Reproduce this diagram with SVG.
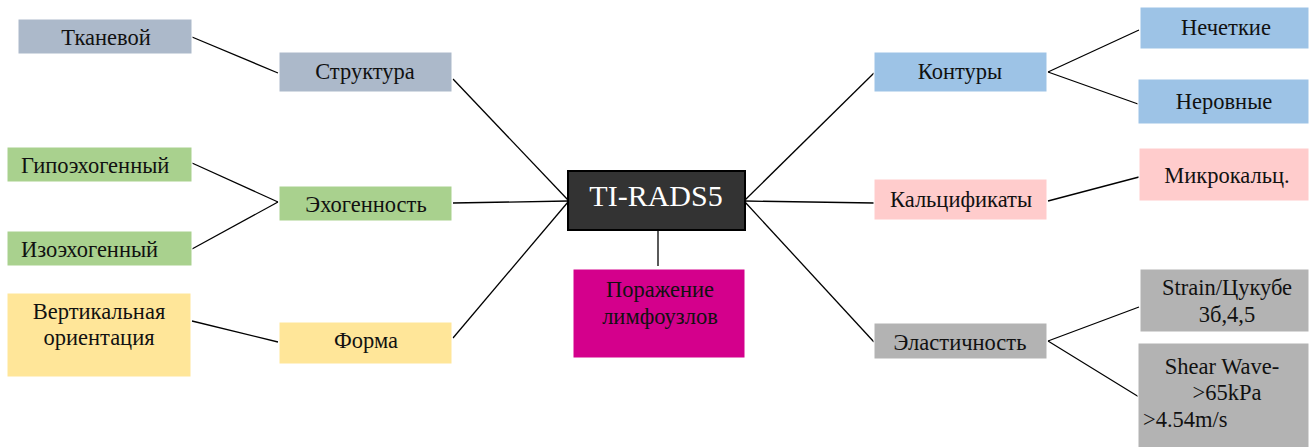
<svg xmlns="http://www.w3.org/2000/svg" width="1309" height="447" viewBox="0 0 1309 447">
<style>
text{font-family:"Liberation Serif","DejaVu Serif",serif;font-size:22.5px;fill:#111;text-anchor:middle}
.st{text-anchor:start}
.s{stroke:#fff;stroke-width:1}
.blue-gray{fill:#ACB9CA}.green{fill:#A9D18E}.yellow{fill:#FFE699}.blue{fill:#9DC3E6}.pink{fill:#FFCCCC}.gray{fill:#B3B3B3}
#connectors line{stroke:#000;stroke-width:1.3}
</style>
<rect width="1309" height="447" fill="#fff"/>
<g id="connectors">
<line x1="192" y1="37" x2="278" y2="73"/>
<line x1="192" y1="163" x2="278" y2="202"/>
<line x1="192" y1="249" x2="278" y2="202"/>
<line x1="192" y1="321" x2="278" y2="342"/>
<line x1="453" y1="79" x2="568" y2="200"/>
<line x1="453" y1="203" x2="568" y2="201"/>
<line x1="453" y1="338" x2="568" y2="202"/>
<line x1="658" y1="230" x2="658" y2="266"/>
<line x1="745" y1="200" x2="874" y2="73"/>
<line x1="745" y1="201" x2="874" y2="203"/>
<line x1="745" y1="202" x2="874" y2="342"/>
<line x1="1048" y1="72" x2="1139" y2="30"/>
<line x1="1048" y1="72" x2="1138" y2="104"/>
<line x1="1048" y1="201" x2="1139" y2="177"/>
<line x1="1048" y1="341" x2="1139" y2="307"/>
<line x1="1048" y1="341" x2="1139" y2="397"/>
</g>
<g id="tkanevoy"><rect class="blue-gray s" x="18" y="19" width="174" height="35"/><text x="106" y="45">Тканевой</text></g>
<g id="struktura"><rect class="blue-gray s" x="279" y="52" width="173" height="40"/><text x="365" y="79">Структура</text></g>
<g id="gipo"><rect class="green s" x="7" y="147" width="185" height="35"/><text class="st" x="21" y="173">Гипоэхогенный</text></g>
<g id="exogennost"><rect class="green s" x="279" y="186" width="173" height="35"/><text x="366" y="212">Эхогенность</text></g>
<g id="izo"><rect class="green s" x="7" y="231" width="185" height="35"/><text class="st" x="21" y="257">Изоэхогенный</text></g>
<g id="vertikal"><rect class="yellow s" x="7" y="293" width="184" height="84"/><text x="99" y="319">Вертикальная</text><text x="99" y="345">ориентация</text></g>
<g id="forma"><rect class="yellow s" x="279" y="322" width="173" height="42"/><text x="366" y="348">Форма</text></g>
<g id="center"><rect x="568" y="171" width="177" height="59" fill="#333" stroke="#000" stroke-width="2"/><text x="656" y="206" style="font-size:30px;fill:#fff">TI-RADS5</text></g>
<g id="porazhenie"><rect x="573" y="269" width="172" height="89" fill="#D4008C" stroke="#fff"/><text x="660" y="297">Поражение</text><text x="660" y="324">лимфоузлов</text></g>
<g id="kontury"><rect class="blue s" x="874" y="52" width="173" height="40"/><text x="960" y="79">Контуры</text></g>
<g id="nechetkie"><rect class="blue s" x="1140" y="7" width="169" height="42"/><text x="1226" y="35">Нечеткие</text></g>
<g id="nerovnye"><rect class="blue s" x="1138" y="79" width="171" height="45"/><text x="1224" y="109">Неровные</text></g>
<g id="kalcifikaty"><rect class="pink s" x="874" y="179" width="173" height="41"/><text x="961" y="207">Кальцификаты</text></g>
<g id="mikrokalc"><rect class="pink s" x="1139" y="148" width="170" height="53"/><text x="1227" y="183">Микрокальц.</text></g>
<g id="elastichnost"><rect class="gray s" x="874" y="323" width="173" height="36"/><text x="960" y="350">Эластичность</text></g>
<g id="strain"><rect class="gray s" x="1140" y="269" width="169" height="63"/><text x="1227" y="295">Strain/Цукубе</text><text x="1227" y="322">3б,4,5</text></g>
<g id="shear"><rect class="gray s" x="1138" y="343" width="171" height="105"/><text x="1222" y="374">Shear Wave-</text><text x="1227" y="400">&gt;65kPa</text><text class="st" x="1143" y="427">&gt;4.54m/s</text></g>
</svg>
